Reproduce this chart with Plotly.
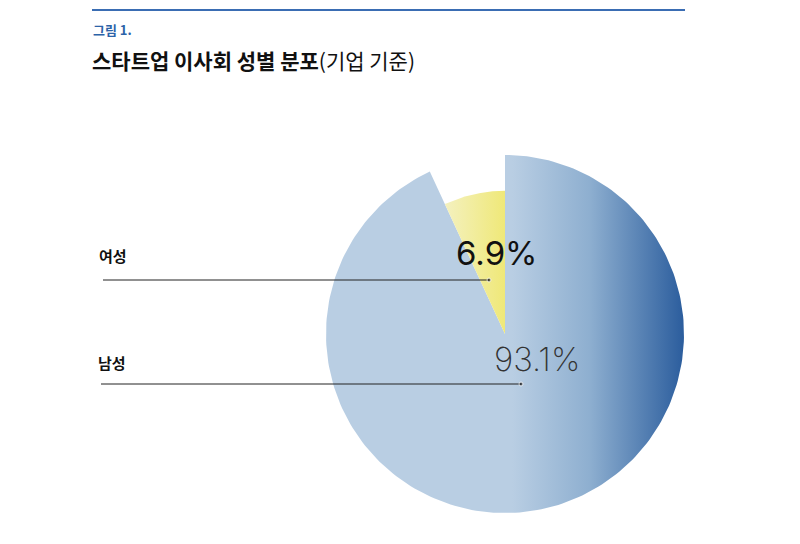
import numpy as np
import plotly.graph_objects as go

# data
categories = ["남성", "여성"]
shares = [93.1, 6.9]
share_labels = ["93.1%", "6.9%"]

fig_title = "<b>스타트업 이사회 성별 분포</b>(기업 기준)"
fig_label = "<b>그림 1.</b>"

KR = "Noto Sans CJK KR"
W, H = 800, 544
OFF = 8          # page body margin
CX, CY, R = 505 - OFF, 334 - OFF, 179


def px(x, y):
    # page pixel -> data units (pie radius = 1)
    return (x - OFF - CX) / R, (CY - (y - OFF)) / R


def slice_xy(a0, a1, r, n=240):
    # angles in degrees, clockwise from 12 o'clock
    t = np.radians(np.linspace(a0, a1, n))
    xs = np.concatenate([[0], r * np.sin(t), [0]])
    ys = np.concatenate([[0], r * np.cos(t), [0]])
    return xs, ys


male_deg = shares[0] / sum(shares) * 360

fig = go.Figure()

mx, my = slice_xy(0, male_deg, 1.0)
fig.add_trace(go.Scatter(
    x=mx, y=my, mode="lines", line=dict(width=0),
    fill="toself",
    fillgradient=dict(type="horizontal", start=0.04, stop=1.0,
                      colorscale=[[0, "#b9cee3"], [0.45, "#8eafd0"], [1, "#2b5d9d"]]),
    hoverinfo="skip", name=categories[0],
))

fx, fy = slice_xy(male_deg, 360, 0.8)
fig.add_trace(go.Scatter(
    x=fx, y=fy, mode="lines", line=dict(width=0),
    fill="toself",
    fillgradient=dict(type="horizontal", start=-0.34, stop=0.0,
                      colorscale=[[0, "#f4f1c0"], [1, "#efe878"]]),
    hoverinfo="skip", name=categories[1],
))

# leader lines (page pixels)
leaders = [((103, 489), 280), ((101, 521), 384)]
for (x0, x1), yv in leaders:
    a, b = px(x0, yv), px(x1, yv)
    fig.add_trace(go.Scatter(
        x=[a[0], b[0]], y=[a[1], b[1]], mode="lines+markers",
        line=dict(color="#222222", width=1),
        marker=dict(size=[0, 4], color="#222222"),
        hoverinfo="skip",
    ))

for name, (lx, ly) in [(categories[1], (97, 255)), (categories[0], (96, 362))]:
    x, y = px(lx, ly)
    fig.add_annotation(x=x, y=y, text="<b>%s</b>" % name, showarrow=False,
                       xanchor="left", yanchor="middle",
                       font=dict(family=KR, size=15, color="#111111"))

x, y = px(497, 253)
fig.add_annotation(x=x, y=y, text=share_labels[1], showarrow=False,
                   xanchor="center", yanchor="middle",
                   font=dict(family="Inter", size=33, color="#111111", weight=400))
x, y = px(537, 359)
fig.add_annotation(x=x, y=y, text=share_labels[0], showarrow=False,
                   xanchor="center", yanchor="middle",
                   font=dict(family="Inter", size=33, color="#333333", weight=200))

# header
fig.add_shape(type="line", xref="paper", yref="paper", x0=(92 - OFF) / W, x1=(685 - OFF) / W,
              y0=1 - (10 - OFF) / H, y1=1 - (10 - OFF) / H, line=dict(color="#3a6db3", width=2))
fig.add_annotation(xref="paper", yref="paper", x=(91 - OFF) / W, y=1 - (30 - OFF) / H, text=fig_label,
                   showarrow=False, xanchor="left", yanchor="middle",
                   font=dict(family=KR, size=13, color="#2c63a8"))
fig.add_annotation(xref="paper", yref="paper", x=(90 - OFF) / W, y=1 - (60 - OFF) / H, text=fig_title,
                   showarrow=False, xanchor="left", yanchor="middle",
                   font=dict(family=KR, size=21, color="#111111"))

fig.update_xaxes(range=[-CX / R, (W - CX) / R], visible=False, fixedrange=True)
fig.update_yaxes(range=[(CY - H) / R, CY / R], visible=False, fixedrange=True)
fig.update_layout(
    width=W, height=H,
    margin=dict(l=0, r=0, t=0, b=0),
    paper_bgcolor="white", plot_bgcolor="white",
    showlegend=False,
)

fig.write_html("out.html")
